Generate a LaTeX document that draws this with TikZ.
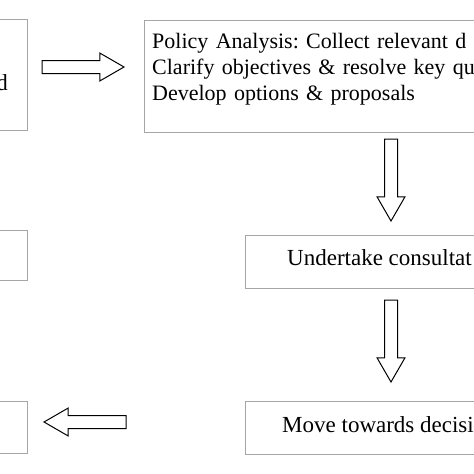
\documentclass[tikz,border=0pt]{standalone}
\usepackage{fontspec}
\setmainfont{Liberation Serif}
\usetikzlibrary{shapes.arrows}
\frenchspacing
\tikzset{
  box/.style={draw=black!35, line width=0.9pt, rectangle, inner sep=0pt},
  lbl/.style={anchor=base west, inner sep=0pt, font=\fontsize{23}{26}\selectfont},
  blockarrow/.style={draw, single arrow, line width=1pt, fill=white,
    inner xsep=0pt, inner ysep=6pt, minimum height=82pt, anchor=tip,
    single arrow head extend=7.5pt, single arrow tip angle=60},
  downarrow/.style={blockarrow, shape border rotate=270, inner xsep=6pt, inner ysep=0pt}
}
\begin{document}
\begin{tikzpicture}[x=1pt,y=-1pt]
\useasboundingbox (0,0) rectangle (474,474);
\clip (0,0) rectangle (474,474);
% left column (cut off by the page edge)
\node[box, minimum width=120pt, minimum height=111pt, anchor=north east] (ctx) at (28,19) {};
\node[lbl, anchor=base east] (ctxt) at (8,90) {d};
\node[box, minimum width=120pt, minimum height=50pt, anchor=north east] (mid) at (28,230) {};
\node[box, minimum width=120pt, minimum height=52pt, anchor=north east] (dec) at (28,401) {};
% right column
\node[box, minimum width=360pt, minimum height=112pt, anchor=north west] (pol) at (144,20) {};
\node[lbl, text width=400pt, align=left, font=\fontsize{22}{26}\selectfont] (polt) at (152,48)
  {Policy Analysis: Collect relevant d\\Clarify objectives \& resolve key qu\\Develop options \& proposals};
\node[box, minimum width=300pt, minimum height=53pt, anchor=north west] (con) at (245,235) {};
\node[lbl] (cont) at (287,265) {Undertake consultat};
\node[box, minimum width=300pt, minimum height=53pt, anchor=north west] (mov) at (245,401) {};
\node[lbl] (movt) at (282,432) {Move towards decisi};
% block arrows
\node[blockarrow] (a1) at (125,67) {};
\node[downarrow] (a2) at (391,222) {};
\node[downarrow] (a3) at (391,383) {};
\node[blockarrow, shape border rotate=180] (a4) at (43,422) {};
\end{tikzpicture}
\end{document}
